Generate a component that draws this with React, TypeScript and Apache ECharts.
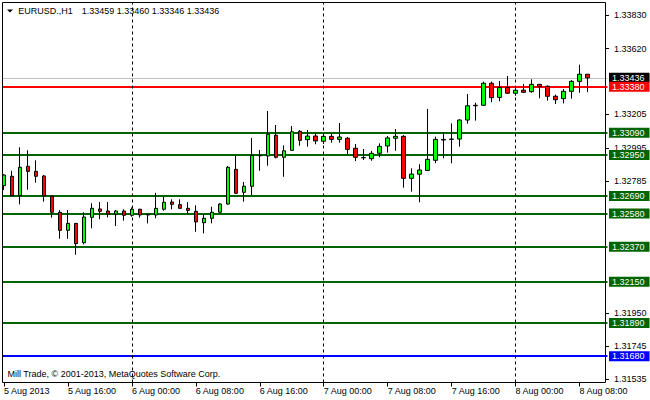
import React, { useEffect, useRef } from "react";
import * as echarts from "echarts";

const FONT = '"Liberation Sans", Arial, sans-serif';

// OHLC of the H1 candles, 5 Aug 08:00 ... 8 Aug 09:00
const opens = [
  1.32756, 1.32815, 1.32693, 1.32878, 1.32846, 1.32817, 1.32689, 1.32588, 1.32474, 1.32518,
  1.32396, 1.32556, 1.32609, 1.32596, 1.32577, 1.32596, 1.32569, 1.32607, 1.32571, 1.32571,
  1.32607, 1.32653, 1.32636, 1.32613, 1.32594, 1.32522, 1.3255, 1.32588, 1.3264, 1.32859,
  1.32714, 1.32752, 1.32945, 1.32943, 1.33074, 1.32935, 1.32979, 1.33099, 1.33046, 1.33069,
  1.33036, 1.33067, 1.33048, 1.33055, 1.32992, 1.32933, 1.32926, 1.3296, 1.33006, 1.33055,
  1.33067, 1.32802, 1.32828, 1.32852, 1.32916, 1.33048, 1.33048, 1.3305, 1.3317, 1.3326,
  1.33263, 1.33402, 1.33313, 1.33376, 1.33339, 1.33358, 1.33349, 1.33395, 1.33383, 1.3332,
  1.33305, 1.33351, 1.33414, 1.33459,
];
const highs = [
  1.32828, 1.3285, 1.32998, 1.32979, 1.32916, 1.32823, 1.32693, 1.32602, 1.32602, 1.3252,
  1.32588, 1.32645, 1.32653, 1.32653, 1.32602, 1.32607, 1.32619, 1.3261, 1.3258, 1.32711,
  1.32686, 1.3267, 1.3267, 1.32653, 1.32632, 1.32577, 1.32623, 1.32645, 1.3288, 1.32945,
  1.32779, 1.33057, 1.32981, 1.33227, 1.33139, 1.3301, 1.33132, 1.33107, 1.33107, 1.3309,
  1.33086, 1.33086, 1.33151, 1.33063, 1.33019, 1.32987, 1.32975, 1.33023, 1.33069, 1.33113,
  1.33075, 1.32865, 1.32891, 1.3324, 1.33065, 1.33093, 1.33149, 1.33175, 1.33334, 1.33279,
  1.33412, 1.33412, 1.33416, 1.33448, 1.3337, 1.33397, 1.33427, 1.33398, 1.33389, 1.3333,
  1.33366, 1.33422, 1.33519, 1.3346,
];
const lows = [
  1.32728, 1.3269, 1.32638, 1.3273, 1.32775, 1.32655, 1.32554, 1.32421, 1.3242, 1.3232,
  1.32386, 1.32487, 1.32544, 1.32556, 1.32501, 1.32535, 1.3256, 1.32554, 1.32518, 1.3255,
  1.32598, 1.32607, 1.3261, 1.32581, 1.32465, 1.32455, 1.32518, 1.32585, 1.32636, 1.32705,
  1.32655, 1.32697, 1.3285, 1.32882, 1.32928, 1.32812, 1.32975, 1.33008, 1.33002, 1.33017,
  1.33019, 1.33027, 1.33027, 1.32954, 1.32911, 1.32918, 1.32913, 1.32935, 1.32964, 1.32976,
  1.32743, 1.32718, 1.32651, 1.3285, 1.32897, 1.32928, 1.32897, 1.33002, 1.33147, 1.33166,
  1.33258, 1.33282, 1.33288, 1.33335, 1.33323, 1.33343, 1.33342, 1.33307, 1.33292, 1.33271,
  1.33275, 1.33305, 1.33342, 1.33346,
];
const closes = [
  1.32823, 1.32693, 1.32872, 1.32846, 1.32815, 1.32691, 1.32588, 1.32474, 1.32518, 1.3239,
  1.32558, 1.32613, 1.32594, 1.32577, 1.32596, 1.32569, 1.32607, 1.32571, 1.32575, 1.32613,
  1.32651, 1.32638, 1.32613, 1.326, 1.32527, 1.3255, 1.32588, 1.3264, 1.32872, 1.32708,
  1.32752, 1.32947, 1.32945, 1.3308, 1.32935, 1.32976, 1.33096, 1.33042, 1.33069, 1.33038,
  1.33067, 1.33048, 1.33063, 1.32985, 1.32935, 1.32932, 1.3296, 1.33004, 1.33057, 1.33067,
  1.32802, 1.32829, 1.32855, 1.32922, 1.33048, 1.33044, 1.3305, 1.3317, 1.3326, 1.33263,
  1.33402, 1.33311, 1.33376, 1.33339, 1.33358, 1.33345, 1.33395, 1.3338, 1.3332, 1.33298,
  1.33351, 1.33414, 1.33459, 1.33436,
];

const xTickLabels = [
  "5 Aug 2013", "5 Aug 16:00", "6 Aug 00:00", "6 Aug 08:00", "6 Aug 16:00",
  "7 Aug 00:00", "7 Aug 08:00", "7 Aug 16:00", "8 Aug 00:00", "8 Aug 08:00",
];
const yTickValues = [1.3383, 1.3362, 1.33205, 1.32995, 1.32785, 1.3195, 1.31745, 1.31535];
const levelValues = [1.3338, 1.3309, 1.3295, 1.3269, 1.3258, 1.3237, 1.3215, 1.3189, 1.3168];
const levelColors = [
  "#FF0000", "#006400", "#006400", "#006400", "#006400", "#006400", "#006400", "#006400", "#0000FF",
];
const bidPrice = 1.33436;
const dayStartIndices = [16, 40, 64];
const headerSymbol = "EURUSD.,H1";
const headerValues = "1.33459 1.33460 1.33346 1.33436";
const footerText = "Mill Trade, © 2001-2013, MetaQuotes Software Corp.";

const SLOT_COUNT = 76;
const Y_MIN = 1.31514;
const Y_MAX = 1.339115;

function buildCategories(): string[] {
  const out: string[] = [];
  for (let i = 0; i < SLOT_COUNT; i++) {
    const hour = 8 + i;
    const day = 5 + Math.floor(hour / 24);
    const h = hour % 24;
    out.push(`${day} Aug ${h < 10 ? "0" + h : h}:00`);
  }
  return out;
}

export default function App() {
  const ref = useRef<HTMLDivElement>(null);

  useEffect(() => {
    if (!ref.current) return;
    const chart = echarts.init(ref.current, null, { renderer: "svg" });
    const categories = buildCategories();
    const candleData = opens.map((o, i) => [o, closes[i], lows[i], highs[i]]);

    const boxLabel = (bg: string) => ({
      show: true,
      position: "end",
      distance: 1.5,
      formatter: (p: any) => Number(p.value).toFixed(5),
      backgroundColor: bg,
      color: "#FFFFFF",
      fontFamily: FONT,
      fontSize: 9,
      lineHeight: 10,
      padding: [0, 5, 0, 3],
    });

    const levelLines: any[] = levelValues.map((v, i) => ({
      yAxis: v,
      lineStyle: { color: levelColors[i], width: 2, type: "solid" },
      label: boxLabel(levelColors[i]),
    }));
    levelLines.unshift({
      yAxis: bidPrice,
      lineStyle: { color: "#C0C0C0", width: 1, type: "solid" },
      label: boxLabel("#000000"),
    });
    const dayLines = dayStartIndices.map((idx) => ({
      xAxis: categories[idx],
      lineStyle: { color: "#000000", width: 1, type: [3, 3] },
      label: { show: false },
    }));

    chart.setOption({
      animation: false,
      backgroundColor: "#FFFFFF",
      textStyle: { fontFamily: FONT },
      grid: { left: -0.5, top: 2.5, width: 608, height: 380 },
      xAxis: {
        type: "category",
        data: categories,
        boundaryGap: true,
        axisLine: { show: false },
        axisTick: {
          show: true,
          alignWithLabel: true,
          interval: (i: number) => i % 8 === 0,
          length: 4,
          lineStyle: { color: "#000000" },
        },
        axisLabel: {
          interval: (i: number) => i % 8 === 0,
          formatter: (_v: string, i: number) => (i % 8 === 0 ? xTickLabels[i / 8] ?? "" : ""),
          align: "left",
          color: "#000000",
          fontFamily: FONT,
          fontSize: 9,
          margin: 4,
        },
        splitLine: { show: false },
      },
      yAxis: {
        type: "value",
        position: "right",
        offset: -1.5,
        min: Y_MIN,
        max: Y_MAX,
        scale: true,
        axisLine: { show: false },
        axisTick: {
          show: true,
          length: 3,
          customValues: yTickValues,
          lineStyle: { color: "#000000" },
        },
        axisLabel: {
          customValues: yTickValues,
          formatter: (v: number) => v.toFixed(5),
          color: "#000000",
          fontFamily: FONT,
          fontSize: 9,
          margin: 8,
        },
        splitLine: { show: false },
      },
      series: [
        {
          type: "candlestick",
          data: candleData,
          barWidth: 4,
          z: 2,
          itemStyle: {
            color: "#00FF00",
            color0: "#FF0000",
            borderColor: "#000000",
            borderColor0: "#000000",
            borderColorDoji: "#000000",
            borderWidth: 1,
          },
          markLine: {
            z: 1,
            silent: true,
            precision: 5,
            symbol: ["none", "none"],
            data: [...levelLines, ...dayLines],
          },
        },
      ],
      graphic: [
        {
          type: "rect",
          z: 99,
          shape: { x: 0, y: 0, width: 2, height: 384 },
          style: { fill: "#FFFFFF" },
        },
        {
          type: "rect",
          z: 100,
          shape: { x: 2.5, y: 2.5, width: 603, height: 380 },
          style: { fill: "none", stroke: "#000000", lineWidth: 1 },
        },
        {
          type: "polygon",
          z: 100,
          shape: { points: [[7, 9.5], [13, 9.5], [10, 12.5]] },
          style: { fill: "#000000" },
        },
        {
          type: "text",
          z: 100,
          x: 18.3,
          y: 11,
          style: { text: headerSymbol, fill: "#000000", fontFamily: FONT, fontSize: 9, verticalAlign: "middle" },
        },
        {
          type: "text",
          z: 100,
          x: 81.7,
          y: 11,
          style: { text: headerValues, fill: "#000000", fontFamily: FONT, fontSize: 9, verticalAlign: "middle" },
        },
        {
          type: "text",
          z: 100,
          x: 7.5,
          y: 374,
          style: { text: footerText, fill: "#000000", fontFamily: FONT, fontSize: 9, verticalAlign: "middle" },
        },
      ],
    });

    return () => chart.dispose();
  }, []);

  return (
    <div
      ref={ref}
      style={{ position: "fixed", left: 0, top: 0, width: 650, height: 400, background: "#FFFFFF" }}
    />
  );
}
